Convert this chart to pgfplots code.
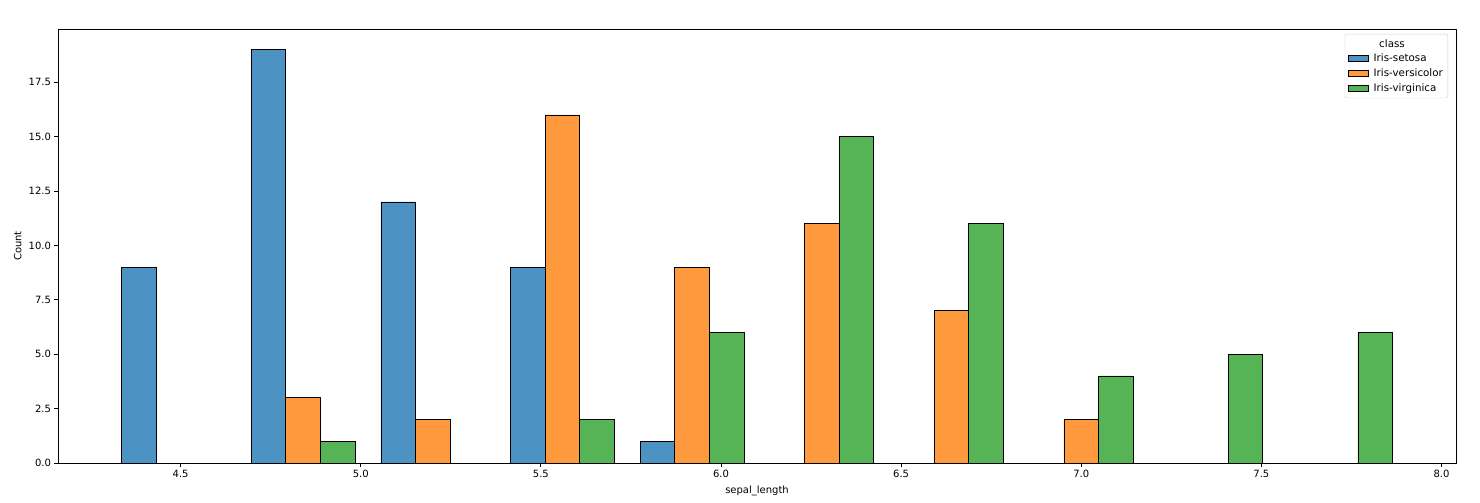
\documentclass[border=0pt]{standalone}
\usepackage{pgfplots}
\pgfplotsset{compat=1.18}
\usepackage{fontspec}
\setmainfont{DejaVu Sans}
\definecolor{cblue}{HTML}{4C92C3}
\definecolor{corange}{HTML}{FF993E}
\definecolor{cgreen}{HTML}{56B356}
\definecolor{legedge}{HTML}{CCCCCC}
\begin{document}
\begin{tikzpicture}
\useasboundingbox (-58pt,-40pt) rectangle (1422pt,463pt);
\begin{axis}[
  at={(0pt,0pt)}, anchor=south west,
  scale only axis, width=1398pt, height=434pt,
  xmin=4.1596, xmax=8.0404, ymin=0, ymax=19.95,
  font=\fontsize{10}{12}\selectfont,
  /pgf/number format/assume math mode=true,
  xtick={4.5,5.0,5.5,6.0,6.5,7.0,7.5,8.0},
  ytick={0,2.5,5,7.5,10,12.5,15,17.5},
  xticklabel style={/pgf/number format/.cd, fixed, fixed zerofill, precision=1},
  yticklabel style={/pgf/number format/.cd, fixed, fixed zerofill, precision=1},
  xtick pos=bottom, ytick pos=left, tick align=outside,
  major tick length=3.5pt,
  every tick/.style={black, line width=0.8pt},
  axis line style={line width=0.8pt},
  xlabel={sepal\_length}, ylabel={Count},
  xlabel style={at={(axis description cs:0.5,0)}, anchor=north, yshift=-19pt},
  ylabel style={at={(axis description cs:-0.0235,0.5)}, anchor=south},
  legend style={at={(rel axis cs:0.9943,0.9885)}, anchor=north east,
    draw=legedge, rounded corners=2pt, font=\fontsize{10.3}{12}\selectfont,
    row sep=1.5pt, inner sep=3pt},
  legend cell align=left,
  legend image code/.code={\draw[#1, sharp corners, draw=black, line width=0.8pt] (0cm,-0.1cm) rectangle (0.7cm,0.12cm);},
]
\addlegendimage{empty legend}
\addlegendentry{\hspace{-0.95cm}\makebox[3.4cm][c]{class}}
\addplot[ybar, bar width=0.096, bar shift=0pt, fill=cblue, draw=black, line width=0.8pt]
  coordinates {(4.384,9) (4.744,19) (5.104,12) (5.464,9) (5.824,1)};
\addlegendentry{\hspace{3pt}Iris-setosa}
\addplot[ybar, bar width=0.096, bar shift=0pt, fill=corange, draw=black, line width=0.8pt]
  coordinates {(4.84,3) (5.20,2) (5.56,16) (5.92,9) (6.28,11) (6.64,7) (7.00,2)};
\addlegendentry{\hspace{3pt}Iris-versicolor}
\addplot[ybar, bar width=0.096, bar shift=0pt, fill=cgreen, draw=black, line width=0.8pt]
  coordinates {(4.936,1) (5.656,2) (6.016,6) (6.376,15) (6.736,11) (7.096,4) (7.456,5) (7.816,6)};
\addlegendentry{\hspace{3pt}Iris-virginica}
\end{axis}
\end{tikzpicture}
\end{document}
